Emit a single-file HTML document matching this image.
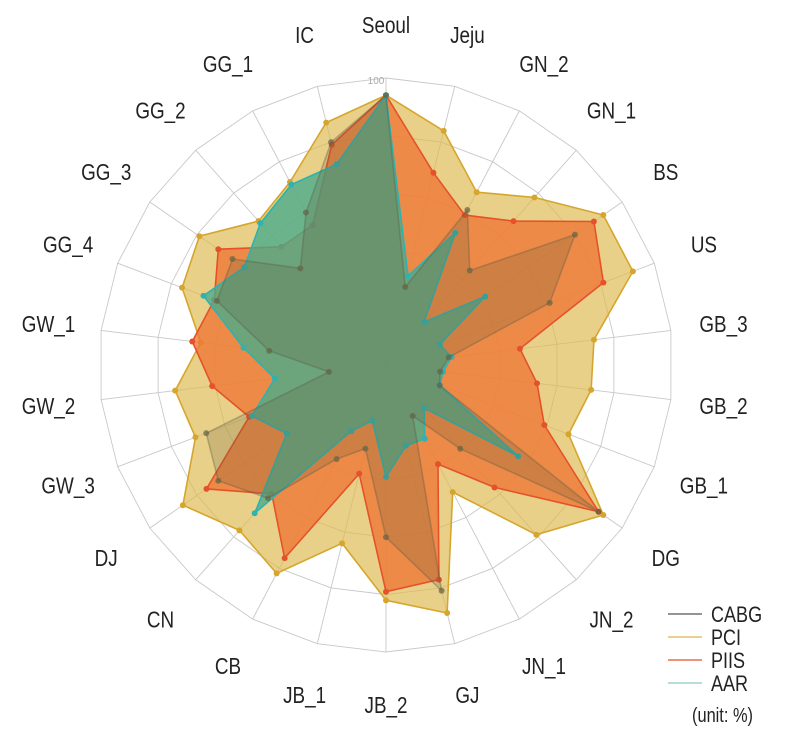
<!DOCTYPE html>
<html><head><meta charset="utf-8"><style>
html,body{margin:0;padding:0;background:#fff;}
svg{display:block;font-family:"Liberation Sans",sans-serif;}
</style></head><body>
<svg id="chart" width="785" height="741"></svg>
<script>
const categories=["Seoul","Jeju","GN_2","GN_1","BS","US","GB_3","GB_2","GB_1","DG","JN_2","JN_1","GJ","JB_2","JB_1","CB","CN","DJ","GW_3","GW_2","GW_1","GG_4","GG_3","GG_2","GG_1","IC"];
const seriesNames=["PCI","PIIS","AAR","CABG"];
const cabg=[94,28,61,44,80,61,22,19,20,90,39,20,81,60,30,37,62,71,67,20,41,63,65,45,60,80];
const pci=[94,84,68,78,92,92,73,72,68,92,79,50,89,82,64,82,77,86,71,74,65,76,79,67,72,87];
const piis=[94,69,59,67,88,81,47,53,59,90,57,39,77,79,39,76,60,76,51,61,68,64,71,55,55,79];
const aar=[94,32,52,20,42,20,23,20,20,56,20,29,29,39,20,26,69,42,50,39,50,68,60,66,71,72];
const ringTicks=[20,40,60,80,100];
const legendLabels=["CABG","PCI","PIIS","AAR"];

const NS="http://www.w3.org/2000/svg";
const svg=document.getElementById("chart");
const cx=386,cy=365,R=287,maxV=100;
function ang(i){return i*2*Math.PI/categories.length;}
function px(i,v){return cx+R*v/maxV*Math.sin(ang(i));}
function py(i,v){return cy-R*v/maxV*Math.cos(ang(i));}
function mk(tag,attrs,parent){const e=document.createElementNS(NS,tag);for(const k in attrs)e.setAttribute(k,attrs[k]);(parent||svg).appendChild(e);return e;}
function ctext(x,y,size,anchor,parent){return mk("text",{x:0,y:0,"font-size":size,"fill":"#222","text-anchor":anchor,transform:"translate("+x.toFixed(1)+","+y.toFixed(1)+") scale(0.82,1)"},parent);}

const grid=mk("g",{});


ringTicks.forEach(t=>{
  const pts=categories.map((c,i)=>px(i,t).toFixed(1)+","+py(i,t).toFixed(1)).join(" ");
  const p=mk("polygon",{points:pts,fill:"none",stroke:"#c8c8c8","stroke-width":"0.9"},grid);
  
  
});
categories.forEach((c,i)=>{
  const l=mk("line",{x1:cx,y1:cy,x2:px(i,maxV),y2:py(i,maxV),stroke:"#c8c8c8","stroke-width":"0.9"},grid);
  
  
});

function drawSeries(name,vals,fill,stroke,dot){
  const g=mk("g",{});
  
  
  const pts=vals.map((v,i)=>px(i,v).toFixed(1)+","+py(i,v).toFixed(1)).join(" ");
  const p=mk("polygon",{points:pts,fill:fill,stroke:stroke,"stroke-width":"1.6","stroke-linejoin":"round"},g);
  
  
  vals.forEach((v,i)=>{
    const c=mk("circle",{cx:px(i,v),cy:py(i,v),r:3,fill:dot},g);
    
    
  });
}
drawSeries("PCI",pci,"rgba(222,186,80,0.68)","#d6a62c","#d6a62c");
drawSeries("PIIS",piis,"rgba(240,118,52,0.78)","#e5522a","#e5522a");
drawSeries("AAR",aar,"rgba(72,172,140,0.78)","#2fb2b0","#2fb2b0");
drawSeries("CABG",cabg,"rgba(95,90,60,0.22)","rgba(90,90,70,0.35)","rgba(100,100,70,0.7)");

const t100=mk("text",{x:cx-10,y:cy-R+6,"font-size":"10","fill":"#aaa","text-anchor":"middle"});
t100.textContent="100";



categories.forEach((c,i)=>{
  const r=340;
  const t=ctext(cx+r*Math.sin(ang(i)),cy-r*Math.cos(ang(i))+8,"23","middle");
  t.textContent=c;
  
  
});

const legendColors=["#555","#e0b24a","#e5522a","#8cc6c8"];
const lg=mk("g",{});


legendLabels.forEach((n,k)=>{
  const y=614+k*23;
  const l=mk("line",{x1:668,y1:y,x2:702,y2:y,stroke:legendColors[k],"stroke-width":"1.3"},lg);
  
  
  const t=ctext(711,y+8,"22","start",lg);
  t.textContent=n;
  
  
});
const u=ctext(692,722,"20","start",lg);
u.textContent="(unit: %)";


</script>
</body></html>
